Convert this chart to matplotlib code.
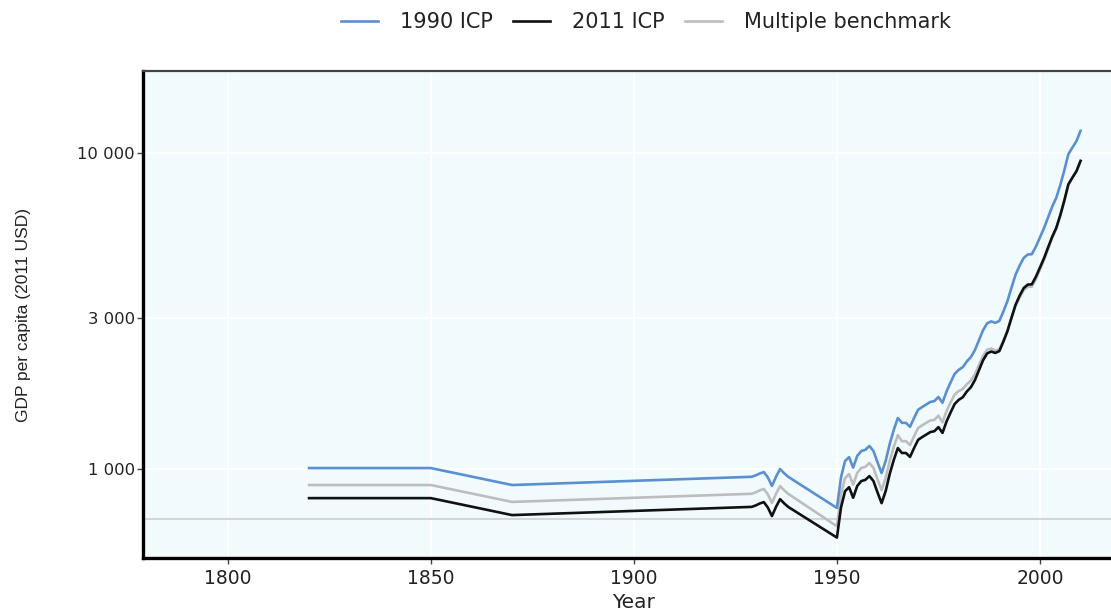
import matplotlib
matplotlib.use("Agg")
import matplotlib.pyplot as plt
from matplotlib.ticker import FixedLocator, FuncFormatter, NullLocator

plt.rcParams['font.family'] = ['DejaVu Sans']

# GDP per capita, 2011 USD, three benchmark variants
years = [1820, 1850, 1870, 1929, 1930, 1931, 1932, 1933, 1934, 1935, 1936, 1937, 1938,
         1950, 1951, 1952, 1953, 1954, 1955, 1956, 1957, 1958, 1959,
         1960, 1961, 1962, 1963, 1964, 1965, 1966, 1967, 1968, 1969,
         1970, 1971, 1972, 1973, 1974, 1975, 1976, 1977, 1978, 1979,
         1980, 1981, 1982, 1983, 1984, 1985, 1986, 1987, 1988, 1989,
         1990, 1991, 1992, 1993, 1994, 1995, 1996, 1997, 1998, 1999,
         2000, 2001, 2002, 2003, 2004, 2005, 2006, 2007, 2008, 2009, 2010]

icp_1990 = [1007, 1007, 890, 945, 955, 968, 978, 940, 884, 945, 1000, 970, 945,
            753, 940, 1060, 1090, 1010, 1100, 1140, 1150, 1183, 1140,
            1050, 971, 1060, 1200, 1330, 1450, 1400, 1400, 1360, 1450,
            1540, 1571, 1600, 1630, 1640, 1690, 1620, 1760, 1880, 2000,
            2060, 2100, 2190, 2260, 2380, 2560, 2750, 2890, 2930, 2900,
            2940, 3150, 3400, 3750, 4120, 4400, 4650, 4770, 4780, 5050,
            5400, 5780, 6250, 6750, 7200, 7900, 8800, 9900, 10400, 10900, 11740]

icp_2011 = [809, 809, 715, 759, 767, 778, 786, 755, 710, 759, 803, 779, 759,
            607, 755, 851, 876, 811, 884, 916, 924, 950, 916,
            843, 780, 851, 964, 1068, 1165, 1124, 1124, 1092, 1165,
            1237, 1262, 1285, 1309, 1317, 1357, 1301, 1414, 1510, 1606,
            1655, 1687, 1759, 1815, 1912, 2056, 2209, 2321, 2353, 2329,
            2361, 2530, 2731, 3012, 3309, 3534, 3735, 3831, 3839, 4056,
            4337, 4643, 5020, 5422, 5783, 6345, 7068, 7952, 8353, 8755, 9430]

multi_bench = [890, 890, 787, 835, 844, 856, 865, 831, 781, 835, 883, 857, 835,
               659, 830, 936, 964, 892, 972, 1008, 1016, 1045, 1008,
               927, 858, 936, 1060, 1175, 1280, 1225, 1225, 1190, 1270,
               1348, 1375, 1400, 1424, 1430, 1475, 1405, 1525, 1625, 1720,
               1765, 1790, 1855, 1905, 1995, 2135, 2280, 2385, 2405, 2370,
               2390, 2550, 2740, 3000, 3280, 3490, 3680, 3770, 3775, 3990,
               4270, 4580, 4960, 5370, 5740, 6310, 7040, 7930, 8340, 8750, 9430]

ref_level = 695
y_ticks = [1000, 3000, 10000]
x_ticks = [1800, 1850, 1900, 1950, 2000]

fig = plt.figure(figsize=(11.11, 6.10), dpi=100)
ax = fig.add_axes([0.1287, 0.0852, 0.8713, 0.7984])
ax.set_facecolor('#f1fbfe')

ax.set_yscale('log')
ax.set_xlim(1779.1, 2017.5)
ax.set_ylim(523, 18150)

# white panel grid
for xv in x_ticks:
    ax.axvline(xv, color='white', linewidth=1.4, zorder=1)
for yv in y_ticks:
    ax.axhline(yv, color='white', linewidth=1.4, zorder=1)

ax.axhline(ref_level, color='#d3d6d8', linewidth=1.5, zorder=2)

ax.plot(years, multi_bench, color='#bdbdbd', linewidth=1.9, zorder=3, label='Multiple benchmark')
ax.plot(years, icp_2011, color='#111111', linewidth=1.9, zorder=4, label='2011 ICP')
ax.plot(years, icp_1990, color='#5b8fd0', linewidth=1.9, zorder=5, label='1990 ICP')

ax.yaxis.set_major_locator(FixedLocator(y_ticks))
ax.yaxis.set_minor_locator(NullLocator())
ax.yaxis.set_major_formatter(FuncFormatter(lambda v, p: f"{int(v):,}".replace(',', ' ')))
ax.set_xticks(x_ticks)

ax.tick_params(axis='both', length=4, width=1, color='#444444', labelcolor='#222222')
ax.tick_params(axis='x', labelsize=13.5, pad=4)
ax.tick_params(axis='y', labelsize=11.8, pad=2)

ax.spines['right'].set_visible(False)
ax.spines['left'].set_linewidth(2.4)
ax.spines['bottom'].set_linewidth(2.4)
ax.spines['left'].set_color('black')
ax.spines['bottom'].set_color('black')
ax.spines['top'].set_linewidth(1.6)
ax.spines['top'].set_color('#444444')

ax.set_ylabel('GDP per capita (2011 USD)', fontsize=12.5, color='#222222',
              family=['Liberation Sans', 'DejaVu Sans'])
ax.yaxis.set_label_coords((31 - 143) / 968, 0.5)
fig.text(633 / 1111, 1 - 602 / 610, 'Year', ha='center', va='center',
         fontsize=14.5, color='#222222')

handles, labels = ax.get_legend_handles_labels()
order = [2, 1, 0]
fig.legend([handles[i] for i in order], [labels[i] for i in order],
           loc='center', bbox_to_anchor=(646 / 1111, 1 - 22 / 610), ncol=3,
           frameon=False, fontsize=15, handlelength=1.75, columnspacing=1.0,
           handletextpad=1.05, labelcolor='#222222')

fig.savefig('out.png', dpi=100)
